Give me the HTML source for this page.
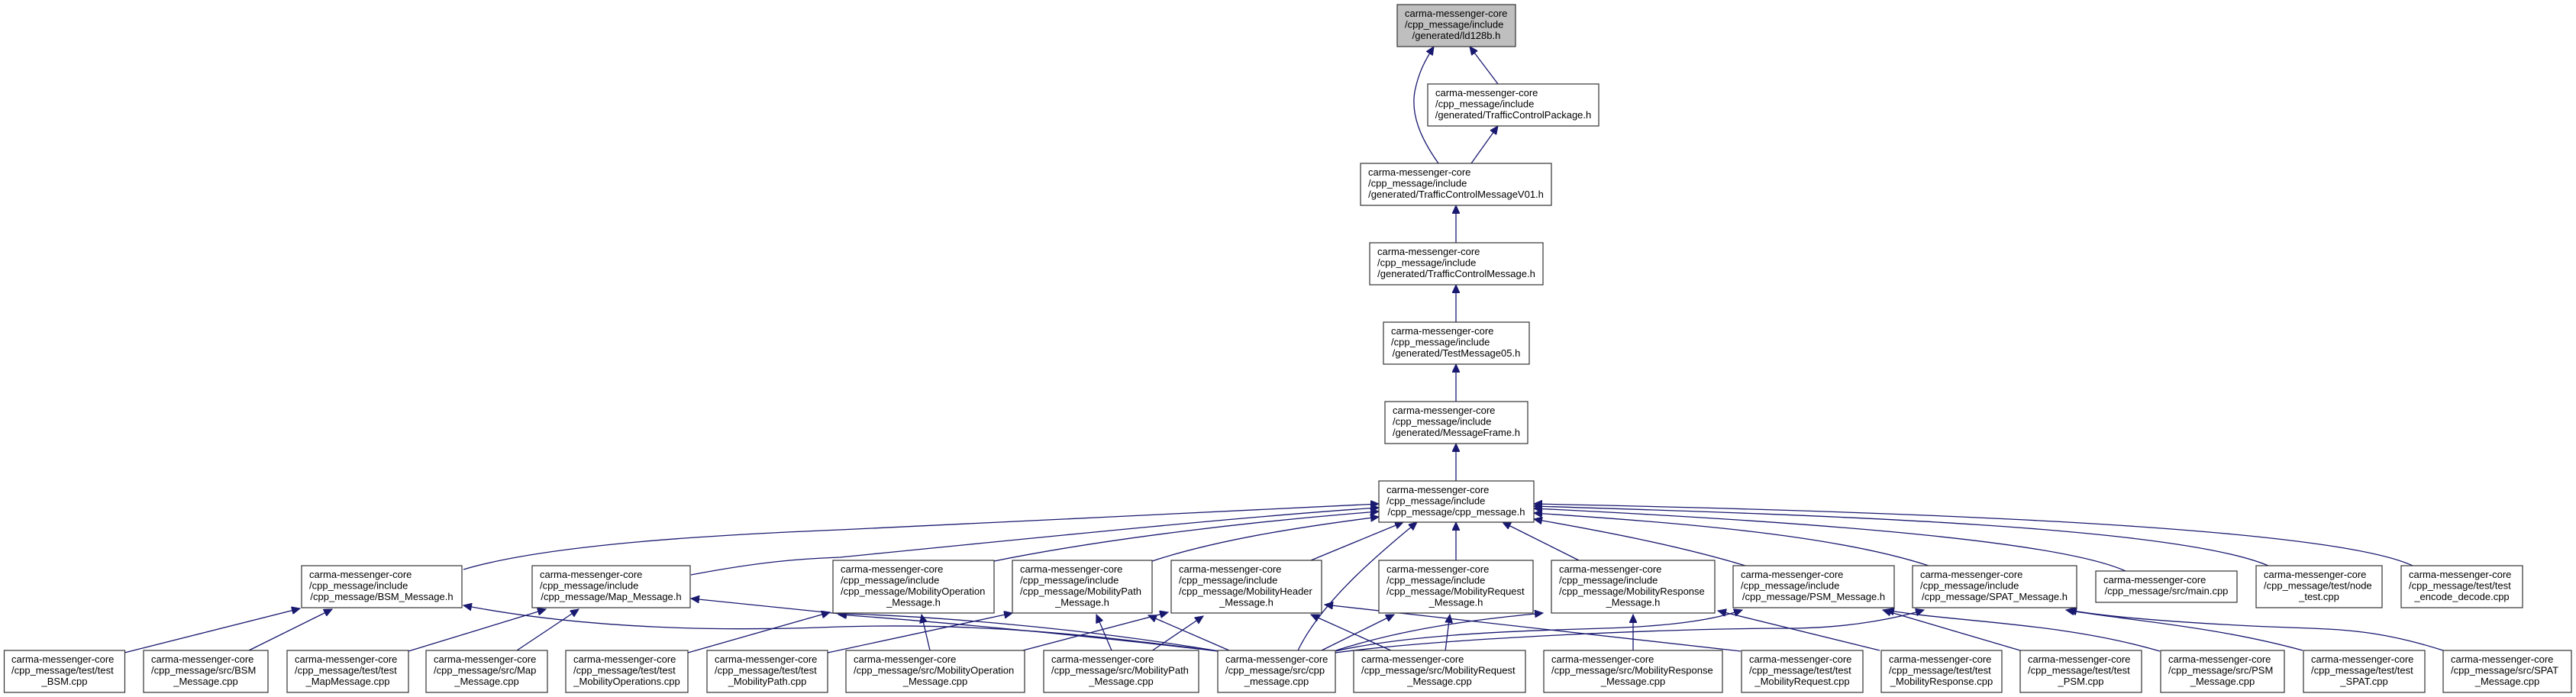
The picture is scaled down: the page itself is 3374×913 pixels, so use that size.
<!DOCTYPE html>
<html><head><meta charset="utf-8"><style>
html,body{margin:0;padding:0;background:#fff;}
svg{display:block;}
text{font-family:"Liberation Sans",Arial,sans-serif;font-size:13px;fill:#000;}
rect{fill:#fff;stroke:#333;stroke-width:1.2;}
path{fill:none;stroke:#191970;stroke-width:1.3;}
</style></head><body>
<svg width="3374" height="913" viewBox="0 0 3374 913" xmlns="http://www.w3.org/2000/svg">
<defs><marker id="a" markerUnits="userSpaceOnUse" markerWidth="12" markerHeight="10" refX="11" refY="5" orient="auto"><polygon points="0,0 11,5 0,10" fill="#191970" stroke="#191970"/></marker></defs>
<g marker-end="url(#a)">
<path d="M1962,110 L1925,61"/>
<path d="M1884,214 C1860,180 1848,150 1853,120 C1858,95 1866,80 1878,61"/>
<path d="M1927,214 L1962,165"/>
<path d="M1907,318 L1907,269"/>
<path d="M1907,422 L1907,373"/>
<path d="M1907,526 L1907,477"/>
<path d="M1907,630 L1907,581"/>
<path d="M607,746 C720,712 950,700 1100,694 S1700,664 1806,660"/>
<path d="M905,753 C1000,735 1050,732 1100,730 C1400,700 1650,675 1806,665"/>
<path d="M1302,735 C1450,705 1650,682 1806,670"/>
<path d="M1509,735 C1600,705 1720,688 1806,677"/>
<path d="M1717,734 L1838,684"/>
<path d="M1700,852 C1730,790 1800,730 1856,684"/>
<path d="M1907,734 L1907,684"/>
<path d="M2068,734 L1968,684"/>
<path d="M2286,741 C2200,715 2100,696 2009,680"/>
<path d="M2526,741 C2400,700 2200,685 2009,672"/>
<path d="M2784,748 C2700,710 2400,685 2009,666"/>
<path d="M2971,741 C2850,690 2400,675 2009,663"/>
<path d="M3160,741 C3050,690 2500,670 2009,660"/>
<path d="M163,855 L393,797"/>
<path d="M326,852 L435,798"/>
<path d="M1597,853 C1450,835 1300,815 1100,821 C1000,825 800,830 607,793"/>
<path d="M535,853 L715,798"/>
<path d="M677,852 L758,798"/>
<path d="M1597,853 C1400,820 1200,806 1100,804 L905,784"/>
<path d="M901,855 L1087,802"/>
<path d="M1218,852 L1207,805"/>
<path d="M1595,853 C1400,830 1200,812 1098,805"/>
<path d="M1084,855 L1326,803"/>
<path d="M1456,852 L1436,805"/>
<path d="M1610,852 L1504,806"/>
<path d="M1336,853 L1530,802"/>
<path d="M1508,853 L1576,807"/>
<path d="M1824,853 L1717,805"/>
<path d="M2280,853 L1735,792"/>
<path d="M1893,853 L1899,805"/>
<path d="M1729,853 L1826,805"/>
<path d="M2139,853 L2139,805"/>
<path d="M1750,852 C1850,820 1950,810 2021,803"/>
<path d="M2462,852 L2250,800"/>
<path d="M1749,853 C1850,830 2000,826 2100,823 C2200,820 2250,810 2282,799"/>
<path d="M2646,852 L2466,799"/>
<path d="M2829,853 C2700,815 2560,815 2470,799"/>
<path d="M1749,855 C1900,835 2200,823 2350,823 C2430,822 2490,808 2520,799"/>
<path d="M3016,852 C2900,820 2780,812 2706,799"/>
<path d="M3200,852 C3100,820 3050,825 2950,820 C2850,815 2760,808 2709,799"/>
</g>

<!-- top column -->
<rect x="1830" y="6" width="155" height="55" style="fill:#bfbfbf"/>
<text x="1840" y="22">carma-messenger-core</text><text x="1840" y="36.5">/cpp_message/include</text><text x="1907.5" y="51" text-anchor="middle">/generated/ld128b.h</text>
<rect x="1870" y="110" width="224" height="55"/>
<text x="1880" y="126">carma-messenger-core</text><text x="1880" y="140.5">/cpp_message/include</text><text x="1982" y="155" text-anchor="middle">/generated/TrafficControlPackage.h</text>
<rect x="1782" y="214" width="250" height="55"/>
<text x="1792" y="230">carma-messenger-core</text><text x="1792" y="244.5">/cpp_message/include</text><text x="1907" y="259" text-anchor="middle">/generated/TrafficControlMessageV01.h</text>
<rect x="1794" y="318" width="227" height="55"/>
<text x="1804" y="334">carma-messenger-core</text><text x="1804" y="348.5">/cpp_message/include</text><text x="1907.5" y="363" text-anchor="middle">/generated/TrafficControlMessage.h</text>
<rect x="1812" y="422" width="191" height="55"/>
<text x="1822" y="438">carma-messenger-core</text><text x="1822" y="452.5">/cpp_message/include</text><text x="1907.5" y="467" text-anchor="middle">/generated/TestMessage05.h</text>
<rect x="1814" y="526" width="187" height="55"/>
<text x="1824" y="542">carma-messenger-core</text><text x="1824" y="556.5">/cpp_message/include</text><text x="1907.5" y="571" text-anchor="middle">/generated/MessageFrame.h</text>
<rect x="1806" y="630" width="203" height="54"/>
<text x="1816" y="646">carma-messenger-core</text><text x="1816" y="660.5">/cpp_message/include</text><text x="1907.5" y="675" text-anchor="middle">/cpp_message/cpp_message.h</text>

<!-- row 2 -->
<rect x="395" y="741" width="210" height="55"/>
<text x="405" y="757">carma-messenger-core</text><text x="405" y="771.5">/cpp_message/include</text><text x="500" y="786" text-anchor="middle">/cpp_message/BSM_Message.h</text>
<rect x="697" y="741" width="207" height="55"/>
<text x="707" y="757">carma-messenger-core</text><text x="707" y="771.5">/cpp_message/include</text><text x="800.5" y="786" text-anchor="middle">/cpp_message/Map_Message.h</text>
<rect x="1091" y="734" width="211" height="69"/>
<text x="1101" y="750">carma-messenger-core</text><text x="1101" y="764.5">/cpp_message/include</text><text x="1101" y="779">/cpp_message/MobilityOperation</text><text x="1196.5" y="793.5" text-anchor="middle">_Message.h</text>
<rect x="1326" y="734" width="183" height="69"/>
<text x="1336" y="750">carma-messenger-core</text><text x="1336" y="764.5">/cpp_message/include</text><text x="1336" y="779">/cpp_message/MobilityPath</text><text x="1417.5" y="793.5" text-anchor="middle">_Message.h</text>
<rect x="1534" y="734" width="197" height="69"/>
<text x="1544" y="750">carma-messenger-core</text><text x="1544" y="764.5">/cpp_message/include</text><text x="1544" y="779">/cpp_message/MobilityHeader</text><text x="1632.5" y="793.5" text-anchor="middle">_Message.h</text>
<rect x="1806" y="734" width="202" height="69"/>
<text x="1816" y="750">carma-messenger-core</text><text x="1816" y="764.5">/cpp_message/include</text><text x="1816" y="779">/cpp_message/MobilityRequest</text><text x="1907" y="793.5" text-anchor="middle">_Message.h</text>
<rect x="2032" y="734" width="214" height="69"/>
<text x="2042" y="750">carma-messenger-core</text><text x="2042" y="764.5">/cpp_message/include</text><text x="2042" y="779">/cpp_message/MobilityResponse</text><text x="2139" y="793.5" text-anchor="middle">_Message.h</text>
<rect x="2270" y="741" width="211" height="55"/>
<text x="2280" y="757">carma-messenger-core</text><text x="2280" y="771.5">/cpp_message/include</text><text x="2375.5" y="786" text-anchor="middle">/cpp_message/PSM_Message.h</text>
<rect x="2505" y="741" width="215" height="55"/>
<text x="2515" y="757">carma-messenger-core</text><text x="2515" y="771.5">/cpp_message/include</text><text x="2612.5" y="786" text-anchor="middle">/cpp_message/SPAT_Message.h</text>
<rect x="2745" y="748" width="185" height="41"/>
<text x="2755" y="764">carma-messenger-core</text><text x="2837.5" y="778.5" text-anchor="middle">/cpp_message/src/main.cpp</text>
<rect x="2955" y="741" width="165" height="55"/>
<text x="2965" y="757">carma-messenger-core</text><text x="2965" y="771.5">/cpp_message/test/node</text><text x="3037.5" y="786" text-anchor="middle">_test.cpp</text>
<rect x="3145" y="741" width="159" height="55"/>
<text x="3155" y="757">carma-messenger-core</text><text x="3155" y="771.5">/cpp_message/test/test</text><text x="3224.5" y="786" text-anchor="middle">_encode_decode.cpp</text>

<!-- row 3 -->
<rect x="5.5" y="852" width="158" height="55"/>
<text x="15" y="868">carma-messenger-core</text><text x="15" y="882.5">/cpp_message/test/test</text><text x="84.5" y="897" text-anchor="middle">_BSM.cpp</text>
<rect x="188" y="852" width="163" height="55"/>
<text x="198" y="868">carma-messenger-core</text><text x="198" y="882.5">/cpp_message/src/BSM</text><text x="269.5" y="897" text-anchor="middle">_Message.cpp</text>
<rect x="376" y="852" width="159" height="55"/>
<text x="386" y="868">carma-messenger-core</text><text x="386" y="882.5">/cpp_message/test/test</text><text x="455.5" y="897" text-anchor="middle">_MapMessage.cpp</text>
<rect x="558" y="852" width="159" height="55"/>
<text x="568" y="868">carma-messenger-core</text><text x="568" y="882.5">/cpp_message/src/Map</text><text x="637.5" y="897" text-anchor="middle">_Message.cpp</text>
<rect x="741" y="852" width="160" height="55"/>
<text x="751" y="868">carma-messenger-core</text><text x="751" y="882.5">/cpp_message/test/test</text><text x="821" y="897" text-anchor="middle">_MobilityOperations.cpp</text>
<rect x="926" y="852" width="158" height="55"/>
<text x="936" y="868">carma-messenger-core</text><text x="936" y="882.5">/cpp_message/test/test</text><text x="1005" y="897" text-anchor="middle">_MobilityPath.cpp</text>
<rect x="1108" y="852" width="234" height="55"/>
<text x="1118" y="868">carma-messenger-core</text><text x="1118" y="882.5">/cpp_message/src/MobilityOperation</text><text x="1225" y="897" text-anchor="middle">_Message.cpp</text>
<rect x="1367" y="852" width="203" height="55"/>
<text x="1377" y="868">carma-messenger-core</text><text x="1377" y="882.5">/cpp_message/src/MobilityPath</text><text x="1468.5" y="897" text-anchor="middle">_Message.cpp</text>
<rect x="1595" y="852" width="154" height="55"/>
<text x="1605" y="868">carma-messenger-core</text><text x="1605" y="882.5">/cpp_message/src/cpp</text><text x="1672" y="897" text-anchor="middle">_message.cpp</text>
<rect x="1773" y="852" width="225" height="55"/>
<text x="1783" y="868">carma-messenger-core</text><text x="1783" y="882.5">/cpp_message/src/MobilityRequest</text><text x="1885.5" y="897" text-anchor="middle">_Message.cpp</text>
<rect x="2022" y="852" width="234" height="55"/>
<text x="2032" y="868">carma-messenger-core</text><text x="2032" y="882.5">/cpp_message/src/MobilityResponse</text><text x="2139" y="897" text-anchor="middle">_Message.cpp</text>
<rect x="2281" y="852" width="159" height="55"/>
<text x="2291" y="868">carma-messenger-core</text><text x="2291" y="882.5">/cpp_message/test/test</text><text x="2360.5" y="897" text-anchor="middle">_MobilityRequest.cpp</text>
<rect x="2464" y="852" width="158" height="55"/>
<text x="2474" y="868">carma-messenger-core</text><text x="2474" y="882.5">/cpp_message/test/test</text><text x="2543" y="897" text-anchor="middle">_MobilityResponse.cpp</text>
<rect x="2646" y="852" width="159" height="55"/>
<text x="2656" y="868">carma-messenger-core</text><text x="2656" y="882.5">/cpp_message/test/test</text><text x="2725.5" y="897" text-anchor="middle">_PSM.cpp</text>
<rect x="2830" y="852" width="162" height="55"/>
<text x="2840" y="868">carma-messenger-core</text><text x="2840" y="882.5">/cpp_message/src/PSM</text><text x="2911" y="897" text-anchor="middle">_Message.cpp</text>
<rect x="3017" y="852" width="159" height="55"/>
<text x="3027" y="868">carma-messenger-core</text><text x="3027" y="882.5">/cpp_message/test/test</text><text x="3096.5" y="897" text-anchor="middle">_SPAT.cpp</text>
<rect x="3200" y="852" width="168" height="55"/>
<text x="3210" y="868">carma-messenger-core</text><text x="3210" y="882.5">/cpp_message/src/SPAT</text><text x="3284" y="897" text-anchor="middle">_Message.cpp</text>
</svg>
</body></html>
